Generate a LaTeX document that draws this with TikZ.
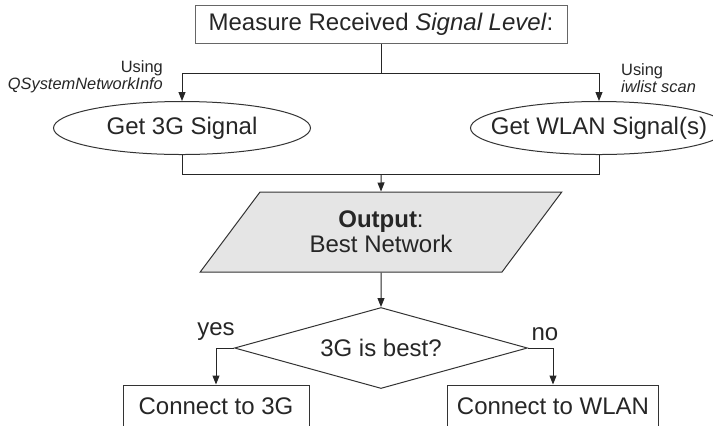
\documentclass[tikz,border=0pt]{standalone}
\usepackage{fontspec}
\setmainfont{Liberation Sans}
\usepackage{tikz}
\usetikzlibrary{arrows.meta, shapes.geometric}

\begin{document}
\begin{tikzpicture}[
            x=0.5pt, y=-0.5pt,
            line width=0.5pt,
            txt/.style={font=\fontsize{12}{12.5}\selectfont, align=center, text=black!85},
            lbl/.style={font=\fontsize{8.2}{8.5}\selectfont, text=black!85},
            procbox/.style={txt, draw=black!60, rectangle, inner sep=0pt},
            getsig/.style={txt, draw=black!80, ellipse, inner sep=0pt, minimum width=128.5pt, minimum height=26.5pt},
            iobox/.style={txt, draw=black!80, fill=black!10, trapezium, trapezium left angle=50, trapezium right angle=130, trapezium stretches=true, minimum width=181pt, minimum height=40pt, inner sep=0pt},
            choicebox/.style={txt, draw=black!80, diamond, aspect=3.6, inner sep=0pt, minimum width=146.5pt, minimum height=40.5pt},
            conn/.style={draw=black!85},
            arr/.style={conn, -{Triangle[length=4.5pt, width=3.5pt]}},
        ]
        \useasboundingbox (0,0) rectangle (713,425);
        \clip (0,0) rectangle (713,425);

        % measuring
        \node[procbox, minimum width=186pt, minimum height=19pt] (measure) at (381,24) {Measure Received \textit{Signal Level}:};
        \node[getsig] (sig3g) at (182,128) {Get 3G Signal};
        \node[getsig, inner xsep=-9.3pt] (sigwlan) at (599,128) {Get WLAN Signal(s)};
        \coordinate (split) at ([yshift=-15pt]measure.south);
        \coordinate (merge) at (split |- 0,174);

        \node[lbl, anchor=south east, align=right] (use3g) at (170,100) {Using\\\textit{QSystemNetworkInfo}};
        \node[lbl, anchor=south west, align=left] (usewlan) at (614,100) {Using\\\textit{iwlist scan}};

        % decision
        \node[iobox] (best) at (381,232) {\textbf{Output}:\\Best Network};
        \node[choicebox] (choice) at (381,348) {3G is best?};
        \node[procbox, draw=black!80, minimum width=93pt, minimum height=21pt] (con3g) at (216,406) {Connect to 3G};
        \node[procbox, draw=black!80, minimum width=105.5pt, minimum height=21pt] (conwlan) at (553,406) {Connect to WLAN};

        \draw[conn] (measure.south) -- (split);
        \draw[arr] (split) -| (sig3g.north);
        \draw[arr] (split) -| (sigwlan.north);
        \draw[conn] (sig3g.south) |- (merge);
        \draw[conn] (sigwlan.south) |- (merge);
        \draw[arr] (merge) -- (best.north);
        \draw[arr] (best.south) -- (choice.north);
        \draw[arr] (choice.west) -| node[txt, pos=0.5, above] {yes} (con3g.north);
        \draw[arr] (choice.east) -| node[txt, pos=0.5, above, xshift=-4pt] {no} (conwlan.north);
    \end{tikzpicture}
\end{document}
